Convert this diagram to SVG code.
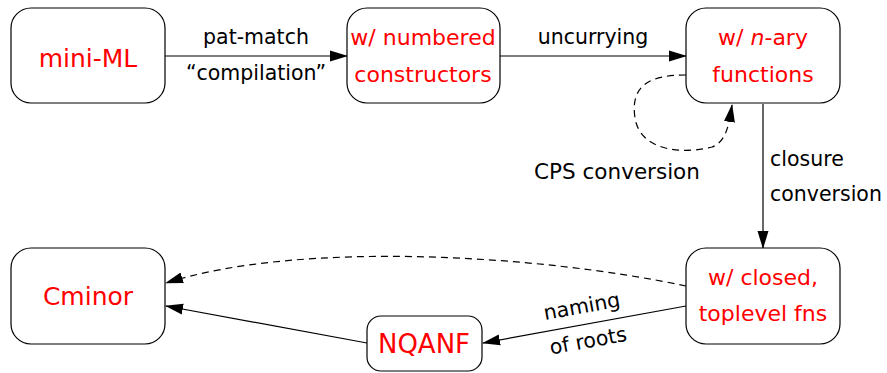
<svg xmlns="http://www.w3.org/2000/svg" width="887" height="373" viewBox="0 0 887 373">
<defs>
<style>
.box{fill:#fff;stroke:#000;stroke-width:1.2}
.nt{font-family:"DejaVu Sans",sans-serif;font-size:22px;fill:#ff0000;text-anchor:middle}
.big{font-size:25px}
.lbl{font-family:"DejaVu Sans",sans-serif;font-size:20.5px;fill:#000}
.c{text-anchor:middle}
.e{fill:none;stroke:#000;stroke-width:1.2}
.d{stroke-dasharray:7,5}
</style>
<marker id="ah" markerWidth="18" markerHeight="12" refX="17" refY="6" orient="auto" markerUnits="userSpaceOnUse">
<path d="M0,0.5 L18,6 L0,11.5 Z" fill="#000"/>
</marker>
</defs>
<rect width="887" height="373" fill="#fff"/>
<g id="connectors">
<line class="e" x1="165" y1="56" x2="347" y2="56" marker-end="url(#ah)"/>
<text class="lbl c" x="256" y="44">pat-match</text>
<text class="lbl c" x="256" y="80">“compilation”</text>
<line class="e" x1="500" y1="56" x2="686" y2="56" marker-end="url(#ah)"/>
<text class="lbl c" x="593" y="44">uncurrying</text>
<path class="e d" d="M686,75 C650,75 630,85 635,118 C640,150 680,155 712,147 C726,142 729,125 732,105" marker-end="url(#ah)"/>
<text class="lbl c" x="617" y="179" style="font-size:21.5px">CPS conversion</text>
<line class="e" x1="763" y1="104" x2="763" y2="248" marker-end="url(#ah)"/>
<text class="lbl" x="770" y="166">closure</text>
<text class="lbl" x="770" y="201">conversion</text>
<path class="e d" d="M686,286 C540,255 300,240 166,283" marker-end="url(#ah)"/>
<line class="e" x1="686" y1="306" x2="483" y2="343" marker-end="url(#ah)"/>
<g transform="rotate(-10.3 585 324)">
<text class="lbl c" x="585" y="313">naming</text>
<text class="lbl c" x="585" y="348">of roots</text>
</g>
<line class="e" x1="367" y1="343" x2="166" y2="306" marker-end="url(#ah)"/>
</g>
<g id="miniML">
<rect class="box" x="11" y="8" width="154" height="95" rx="20"/>
<text class="nt big" x="88" y="67">mini-ML</text>
</g>
<g id="numbered">
<rect class="box" x="347" y="8" width="153" height="95" rx="20"/>
<text class="nt" x="423" y="45">w/ numbered</text>
<text class="nt" x="423" y="82">constructors</text>
</g>
<g id="nary">
<rect class="box" x="686" y="8" width="154" height="95" rx="20"/>
<text class="nt" x="763" y="45">w/ <tspan font-style="italic">n</tspan>-ary</text>
<text class="nt" x="763" y="82">functions</text>
</g>
<g id="closed">
<rect class="box" x="686" y="248" width="154" height="96" rx="20"/>
<text class="nt" x="763" y="285">w/ closed,</text>
<text class="nt" x="763" y="321">toplevel fns</text>
</g>
<g id="cminor">
<rect class="box" x="11" y="248" width="154" height="96" rx="20"/>
<text class="nt big" x="88" y="305">Cminor</text>
</g>
<g id="nqanf">
<rect class="box" x="367" y="316" width="115" height="55" rx="14"/>
<text class="nt" x="424" y="353" style="font-size:26px">NQANF</text>
</g>
</svg>
